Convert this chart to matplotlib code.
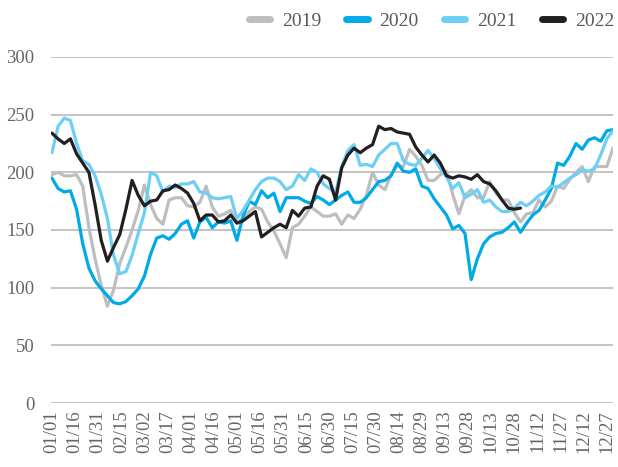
import numpy as np
import matplotlib
matplotlib.use("Agg")
import matplotlib.pyplot as plt
from matplotlib.lines import Line2D

# sample days (day of year, every 4 days)
days = list(range(0, 365, 4))

tick_labels = ["01/01", "01/16", "01/31", "02/15", "03/02", "03/17", "04/01", "04/16",
               "05/01", "05/16", "05/31", "06/15", "06/30", "07/15", "07/30", "08/14",
               "08/29", "09/13", "09/28", "10/13", "10/28", "11/12", "11/27", "12/12", "12/27"]
tick_days = list(range(0, 361, 15))

y2019 = [198, 200, 197, 197, 198, 188, 152, 125, 102, 84, 98, 121, 135, 150, 167, 189,
         172, 160, 155, 176, 178, 178, 171, 170, 174, 188, 170, 162, 164, 167, 156, 160,
         166, 170, 168, 157, 149, 138, 126, 152, 155, 162, 170, 166, 162, 162, 164, 155,
         163, 160, 168, 180, 200, 189, 185, 198, 206, 205, 220, 214, 206, 193, 193, 198,
         201, 181, 164, 180, 185, 178, 178, 192, 182, 176, 176, 165, 157, 164, 165, 176,
         170, 175, 188, 186, 194, 200, 205, 192, 205, 205, 205, 221]

y2020 = [195, 186, 183, 184, 168, 138, 117, 106, 99, 93, 87, 86, 88, 93, 99, 110,
         129, 143, 145, 142, 147, 155, 158, 143, 157, 161, 152, 157, 156, 158, 141, 162,
         175, 172, 184, 178, 182, 166, 178, 178, 178, 175, 173, 179, 176, 172, 176, 180,
         183, 174, 174, 178, 185, 192, 193, 197, 208, 201, 200, 203, 188, 186, 177, 170,
         163, 151, 154, 147, 107, 125, 138, 144, 147, 148, 152, 157, 148, 156, 163, 167,
         176, 186, 208, 206, 214, 225, 220, 228, 230, 227, 236, 237]

y2021 = [217, 240, 247, 245, 225, 210, 207, 197, 181, 160, 128, 112, 114, 128, 147, 165,
         200, 197, 183, 188, 187, 190, 190, 192, 183, 182, 178, 177, 178, 179, 160, 167,
         176, 185, 192, 195, 195, 192, 185, 188, 198, 193, 203, 200, 190, 186, 182, 205,
         219, 224, 206, 207, 205, 215, 220, 225, 225, 210, 207, 206, 212, 219, 212, 203,
         196, 186, 191, 178, 181, 185, 174, 176, 170, 166, 166, 169, 174, 171, 175, 180,
         183, 188, 187, 191, 195, 198, 202, 201, 203, 215, 229, 236]

y2022 = [234, 229, 225, 229, 216, 208, 200, 172, 141, 123, 135, 146, 168, 193, 180, 171,
         175, 176, 184, 185, 189, 186, 182, 173, 158, 163, 163, 157, 158, 163, 156, 158,
         162, 166, 144, 148, 152, 155, 152, 167, 162, 169, 170, 188, 197, 194, 176, 204,
         215, 221, 217, 221, 224, 240, 237, 238, 235, 234, 233, 222, 215, 209, 215, 208,
         197, 195, 197, 196, 194, 198, 192, 190, 184, 176, 169, 168, 169]

series = [("2019", y2019, "#BDBEC0"),
          ("2020", y2020, "#00AAE7"),
          ("2021", y2021, "#6DCFF6"),
          ("2022", y2022, "#231F20")]

plt.rcParams['font.family'] = ['Liberation Serif', 'DejaVu Serif']

fig = plt.figure(figsize=(6.18, 4.67), dpi=100)
ax = fig.add_axes([51/618, 1 - 403/467, (613 - 51)/618, (403 - 57)/467])

for name, vals, col in series:
    ax.plot(days[:len(vals)], vals, color=col, lw=2.3, solid_joinstyle='round',
            solid_capstyle='round')

ax.set_ylim(0, 300)
ax.set_xlim(-0.6, 364)
ax.set_yticks(range(0, 301, 50))
ax.set_xticks(tick_days)
ax.set_xticklabels(tick_labels, rotation=90)
ax.grid(axis='y', color='#BFBFBF', lw=1.3)
ax.set_axisbelow(True)
for s in ax.spines.values():
    s.set_visible(False)
ax.tick_params(axis='both', length=0, labelsize=13.5, colors='#666666')
ax.tick_params(axis='y', pad=12)
ax.tick_params(axis='x', pad=5)

handles = [Line2D([0], [0], color=c, lw=5, solid_capstyle='round') for _, _, c in series]
labels = [n for n, _, _ in series]
fig.legend(handles, labels, loc='upper right', bbox_to_anchor=(1.022, 1.012), ncol=4,
           frameon=False, fontsize=14, handlelength=1.1, handletextpad=0.6,
           columnspacing=1.3, labelcolor='#595959')

fig.savefig("out.png", dpi=100)
